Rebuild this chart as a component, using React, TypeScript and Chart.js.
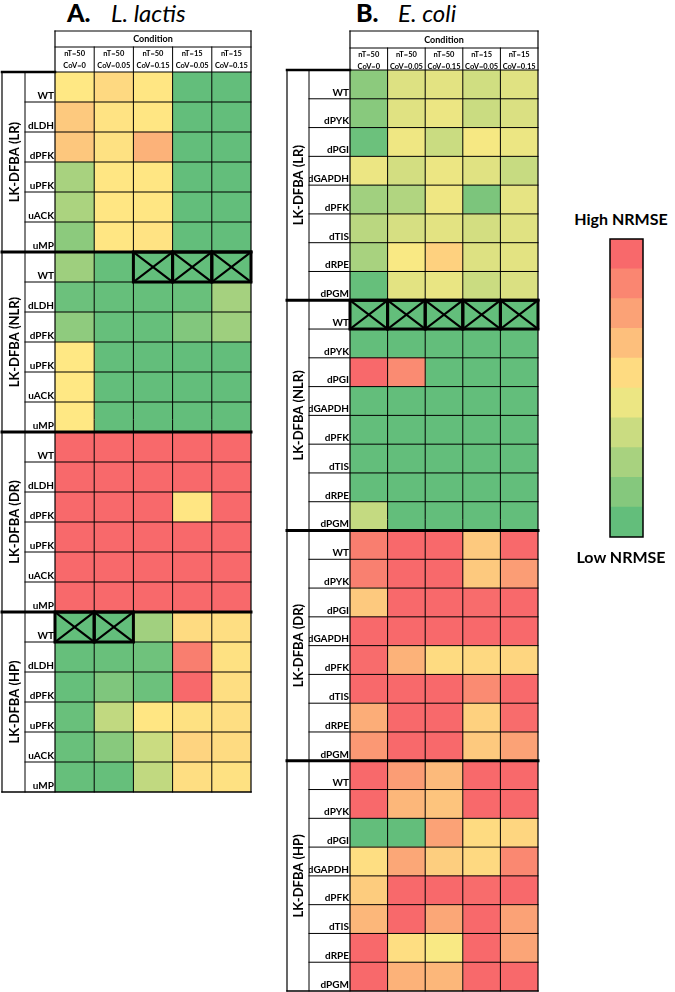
import React, { useEffect, useRef } from 'react';
import { Chart, registerables } from 'chart.js';
Chart.register(...registerables);

// ---------- data ----------
const conditionLabels = [
  ['nT=50', 'CoV=0'],
  ['nT=50', 'CoV=0.05'],
  ['nT=50', 'CoV=0.15'],
  ['nT=15', 'CoV=0.05'],
  ['nT=15', 'CoV=0.15'],
];
const groupNames = ['LK-DFBA (LR)', 'LK-DFBA (NLR)', 'LK-DFBA (DR)', 'LK-DFBA (HP)'];
const lactisMutants = ['WT', 'dLDH', 'dPFK', 'uPFK', 'uACK', 'uMP'];
const coliMutants = ['WT', 'dPYK', 'dPGI', 'dGAPDH', 'dPFK', 'dTIS', 'dRPE', 'dPGM'];

// relative NRMSE (0 = low / green, 1 = high / red)
const lactisLR = [
  [0.51, 0.57, 0.52, 0.0, 0.0],
  [0.63, 0.53, 0.52, 0.0, 0.0],
  [0.64, 0.54, 0.72, 0.0, 0.0],
  [0.22, 0.52, 0.52, 0.0, 0.0],
  [0.23, 0.52, 0.52, 0.0, 0.0],
  [0.13, 0.52, 0.53, 0.0, 0.0],
];
const lactisNLR = [
  [0.19, 0.01, 0.0, 0.0, 0.0],
  [0.03, 0.01, 0.01, 0.02, 0.21],
  [0.14, 0.01, 0.01, 0.1, 0.19],
  [0.51, 0.0, 0.0, 0.0, 0.0],
  [0.51, 0.0, 0.0, 0.0, 0.0],
  [0.51, 0.0, 0.0, 0.0, 0.0],
];
const lactisDR = [
  [1, 1, 1, 1, 1],
  [1, 1, 1, 1, 1],
  [1, 1, 1, 0.52, 1],
  [1, 1, 1, 1, 1],
  [1, 1, 1, 1, 1],
  [1, 1, 1, 1, 1],
];
const lactisHP = [
  [0.0, 0.0, 0.2, 0.56, 0.55],
  [0.01, 0.02, 0.04, 0.92, 0.54],
  [0.01, 0.09, 0.03, 1, 0.55],
  [0.02, 0.3, 0.52, 0.54, 0.55],
  [0.02, 0.12, 0.33, 0.59, 0.56],
  [0.01, 0.01, 0.3, 0.55, 0.54],
];
// [group, row, column] cells marked with a cross
const lactisCrossed = [[1, 0, 2], [1, 0, 3], [1, 0, 4], [3, 0, 0], [3, 0, 1]];

const coliLR = [
  [0.13, 0.39, 0.41, 0.35, 0.4],
  [0.12, 0.4, 0.44, 0.33, 0.38],
  [0.03, 0.45, 0.33, 0.47, 0.44],
  [0.44, 0.36, 0.44, 0.4, 0.32],
  [0.2, 0.25, 0.45, 0.08, 0.42],
  [0.28, 0.37, 0.41, 0.36, 0.4],
  [0.22, 0.48, 0.6, 0.39, 0.41],
  [0.01, 0.41, 0.43, 0.33, 0.38],
];
const coliNLR = [
  [0, 0, 0, 0, 0],
  [0, 0, 0, 0, 0],
  [1, 0.87, 0, 0, 0],
  [0, 0, 0, 0, 0],
  [0, 0, 0, 0, 0],
  [0, 0, 0, 0, 0],
  [0, 0, 0, 0, 0],
  [0.31, 0, 0, 0, 0],
];
const coliDR = [
  [0.92, 1, 1, 0.63, 1],
  [0.91, 1, 1, 0.63, 0.8],
  [0.63, 1, 1, 0.99, 1],
  [1, 1, 1, 1, 1],
  [0.99, 0.72, 0.56, 0.57, 0.58],
  [1, 1, 1, 0.87, 1],
  [0.74, 1, 1, 0.6, 0.99],
  [0.82, 1, 1, 0.63, 0.78],
];
const coliHP = [
  [1, 0.8, 0.69, 1, 1],
  [1, 0.7, 0.65, 1, 1],
  [0, 0, 0.78, 0.56, 0.58],
  [0.55, 0.76, 0.61, 0.57, 0.88],
  [0.62, 1, 1, 0.99, 1],
  [0.7, 1, 0.76, 1, 0.78],
  [1, 0.55, 0.48, 1, 0.77],
  [1, 0.72, 0.7, 1, 1],
];
const coliCrossed = [[1, 0, 0], [1, 0, 1], [1, 0, 2], [1, 0, 3], [1, 0, 4]];

const legendLevels = [0, 0.11, 0.22, 0.33, 0.44, 0.56, 0.67, 0.78, 0.89, 1];

// ---------- styling ----------
const FONT = 'Lato, "Open Sans", sans-serif';

function nrmseColor(t: number) {
  const g = [99, 190, 123], y = [255, 235, 132], r = [248, 105, 107];
  let a, b, u;
  if (t <= 0.5) { a = g; b = y; u = t / 0.5; } else { a = y; b = r; u = (t - 0.5) / 0.5; }
  const c = a.map((v, i) => Math.round(v + (b[i] - v) * u));
  return `rgb(${c[0]},${c[1]},${c[2]})`;
}

const specA = {
  groups: [lactisLR, lactisNLR, lactisDR, lactisHP],
  mutants: lactisMutants,
  crossed: lactisCrossed,
  left: 0, width: 260, height: 800,
  pad: { left: 25, right: 9, top: 72, bottom: 8 },
  labelW: 30, groupLeft: 2, labelLeft: 25, headerTop: 31, subTop: 47,
  labelOffset: 9,
};
const specB = {
  groups: [coliLR, coliNLR, coliDR, coliHP],
  mutants: coliMutants,
  crossed: coliCrossed,
  left: 278, width: 270, height: 992,
  pad: { left: 31, right: 10, top: 70, bottom: 1 },
  labelW: 41, groupLeft: 9, labelLeft: 31, headerTop: 31, subTop: 48,
  labelOffset: 8,
};

function buildPanelConfig(spec: any) {
  const rows: string[] = [];
  const values: number[][] = [];
  spec.groups.forEach((g: number[][]) => g.forEach((r, i) => { rows.push(spec.mutants[i]); values.push(r); }));
  const per = spec.mutants.length;
  const n = rows.length;

  const datasets = conditionLabels.map((lab, c) => ({
    label: lab.join(' '),
    data: rows.map(() => 1),
    backgroundColor: values.map((r) => nrmseColor(r[c])),
    borderWidth: 0,
    barPercentage: 1,
    categoryPercentage: 1,
  }));

  const tablePlugin = {
    id: 'tableLines',
    afterDraw(chart: any) {
      const { ctx, chartArea: a, scales } = chart;
      const x = scales.x, y = scales.y;
      const h = (a.bottom - a.top) / n;
      const rowEdge = (i: number) => (i < n ? y.getPixelForValue(i) - h / 2 : y.getPixelForValue(n - 1) + h / 2);
      const colEdge = (c: number) => x.getPixelForValue(c);
      const line = (x1: number, y1: number, x2: number, y2: number, w: number) => {
        ctx.lineWidth = w;
        ctx.beginPath();
        ctx.moveTo(x1, y1);
        ctx.lineTo(x2, y2);
        ctx.stroke();
      };
      ctx.save();
      ctx.strokeStyle = '#000';
      ctx.lineCap = 'square';
      const gL = spec.groupLeft, lL = spec.labelLeft;
      for (let i = 1; i < n; i++) {
        if (i % per !== 0) line(lL, rowEdge(i), a.right, rowEdge(i), 1);
      }
      for (let c = 1; c < conditionLabels.length; c++) line(colEdge(c), spec.subTop, colEdge(c), a.bottom, 1);
      line(a.left, spec.headerTop, a.left, a.bottom, 1.2);
      line(a.right, spec.headerTop, a.right, a.bottom, 1.2);
      line(a.left, spec.headerTop, a.right, spec.headerTop, 1.2);
      line(a.left, spec.subTop, a.right, spec.subTop, 1);
      line(a.left, a.top, a.right, a.top, 1.2);
      line(lL, a.top, lL, a.bottom, 1);
      line(gL, a.top, gL, a.bottom, 1.2);
      for (let k = 1; k < spec.groups.length; k++) line(gL, rowEdge(k * per), a.right, rowEdge(k * per), 3);
      line(gL, a.top, a.left, a.top, 2.5);
      line(gL, a.bottom, a.right, a.bottom, 1.5);
      spec.crossed.forEach(([g, r, c]: number[]) => {
        const i = g * per + r;
        const x1 = colEdge(c), x2 = colEdge(c + 1), y1 = rowEdge(i), y2 = rowEdge(i + 1);
        ctx.lineWidth = 3;
        ctx.strokeRect(x1, y1, x2 - x1, y2 - y1);
        line(x1, y1, x2, y2, 2.2);
        line(x1, y2, x2, y1, 2.2);
      });
      ctx.fillStyle = '#000';
      ctx.textAlign = 'center';
      ctx.textBaseline = 'middle';
      ctx.font = `bold 9px ${FONT}`;
      ctx.fillText('Condition', (a.left + a.right) / 2, (spec.headerTop + spec.subTop) / 2 + 0.5);
      ctx.font = `bold 7.5px ${FONT}`;
      conditionLabels.forEach((lab, c) => {
        const cx = x.getPixelForValue(c + 0.5);
        ctx.fillText(lab[0], cx, spec.subTop + 6.5);
        ctx.fillText(lab[1], cx, spec.subTop + 18.5);
      });
      ctx.font = `bold 13px ${FONT}`;
      groupNames.forEach((name, k) => {
        const cy = (rowEdge(k * per) + rowEdge((k + 1) * per)) / 2;
        const cx = (gL + lL) / 2 + 1;
        ctx.save();
        ctx.translate(cx, cy);
        ctx.rotate(-Math.PI / 2);
        ctx.fillText(name, 0, 0);
        ctx.restore();
      });
      ctx.restore();
    },
  };

  return {
    type: 'bar',
    data: { labels: rows, datasets },
    options: {
      indexAxis: 'y',
      responsive: false,
      animation: false,
      events: [],
      layout: { padding: spec.pad },
      plugins: { legend: { display: false }, tooltip: { enabled: false }, title: { display: false } },
      scales: {
        x: { type: 'linear', stacked: true, min: 0, max: 5, display: false },
        y: {
          type: 'category',
          stacked: true,
          offset: true,
          grid: { display: false, drawTicks: false },
          border: { display: false },
          ticks: {
            font: { family: FONT, size: 10, weight: 'bold' },
            color: '#000',
            padding: 1,
            labelOffset: spec.labelOffset,
            autoSkip: false,
          },
          afterFit(s: any) {
            s.width = spec.labelW;
            s.paddingTop = 0;
            s.paddingBottom = 0;
          },
        },
      },
    },
    plugins: [tablePlugin],
  };
}

function buildLegendConfig() {
  const borderPlugin = {
    id: 'legendBorder',
    afterDraw(chart: any) {
      const { ctx, chartArea: a } = chart;
      ctx.save();
      ctx.strokeStyle = '#000';
      ctx.lineWidth = 1.5;
      ctx.strokeRect(a.left, a.top, a.right - a.left, a.bottom - a.top);
      ctx.restore();
    },
  };
  return {
    type: 'bar',
    data: {
      labels: ['NRMSE'],
      datasets: legendLevels.map((lv) => ({
        label: String(lv),
        data: [1],
        backgroundColor: nrmseColor(lv),
        borderWidth: 0,
        barPercentage: 1,
        categoryPercentage: 1,
      })),
    },
    options: {
      responsive: false,
      animation: false,
      events: [],
      layout: { padding: { left: 10, right: 17, top: 9, bottom: 13 } },
      plugins: { legend: { display: false }, tooltip: { enabled: false } },
      scales: {
        x: { stacked: true, display: false },
        y: { stacked: true, display: false, min: 0, max: legendLevels.length },
      },
    },
    plugins: [borderPlugin],
  };
}

function ChartCanvas({ build, left, top, width, height }: any) {
  const ref = useRef<HTMLCanvasElement>(null);
  useEffect(() => {
    const chart = new Chart(ref.current as HTMLCanvasElement, build());
    return () => chart.destroy();
  }, []);
  return (
    <canvas
      ref={ref}
      width={width}
      height={height}
      style={{ position: 'absolute', left, top, width, height }}
    />
  );
}

const textBase: React.CSSProperties = { position: 'absolute', fontFamily: FONT, color: '#000', whiteSpace: 'nowrap' };

export default function App() {
  return (
    <div style={{ position: 'absolute', left: 0, top: 0, width: 675, height: 992, background: '#fff', overflow: 'hidden' }}>
      <div style={{ ...textBase, left: 67, top: 0, fontSize: 25, lineHeight: '25px', fontWeight: 900 }}>A.</div>
      <div style={{ ...textBase, left: 111, top: 0, fontSize: 24, lineHeight: '25px', fontStyle: 'italic' }}>L. lactis</div>
      <div style={{ ...textBase, left: 356, top: 0, fontSize: 25, lineHeight: '25px', fontWeight: 900 }}>B.</div>
      <div style={{ ...textBase, left: 398, top: 0, fontSize: 24, lineHeight: '25px', fontStyle: 'italic' }}>E. coli</div>
      <ChartCanvas build={() => buildPanelConfig(specA)} left={specA.left} top={0} width={specA.width} height={specA.height} />
      <ChartCanvas build={() => buildPanelConfig(specB)} left={specB.left} top={0} width={specB.width} height={specB.height} />
      <ChartCanvas build={buildLegendConfig} left={600} top={230} width={60} height={320} />
      <div style={{ ...textBase, left: 561, top: 211, width: 120, textAlign: 'center', fontSize: 16, lineHeight: '16px', fontWeight: 'bold' }}>High NRMSE</div>
      <div style={{ ...textBase, left: 561, top: 549, width: 120, textAlign: 'center', fontSize: 16, lineHeight: '16px', fontWeight: 'bold' }}>Low NRMSE</div>
    </div>
  );
}
